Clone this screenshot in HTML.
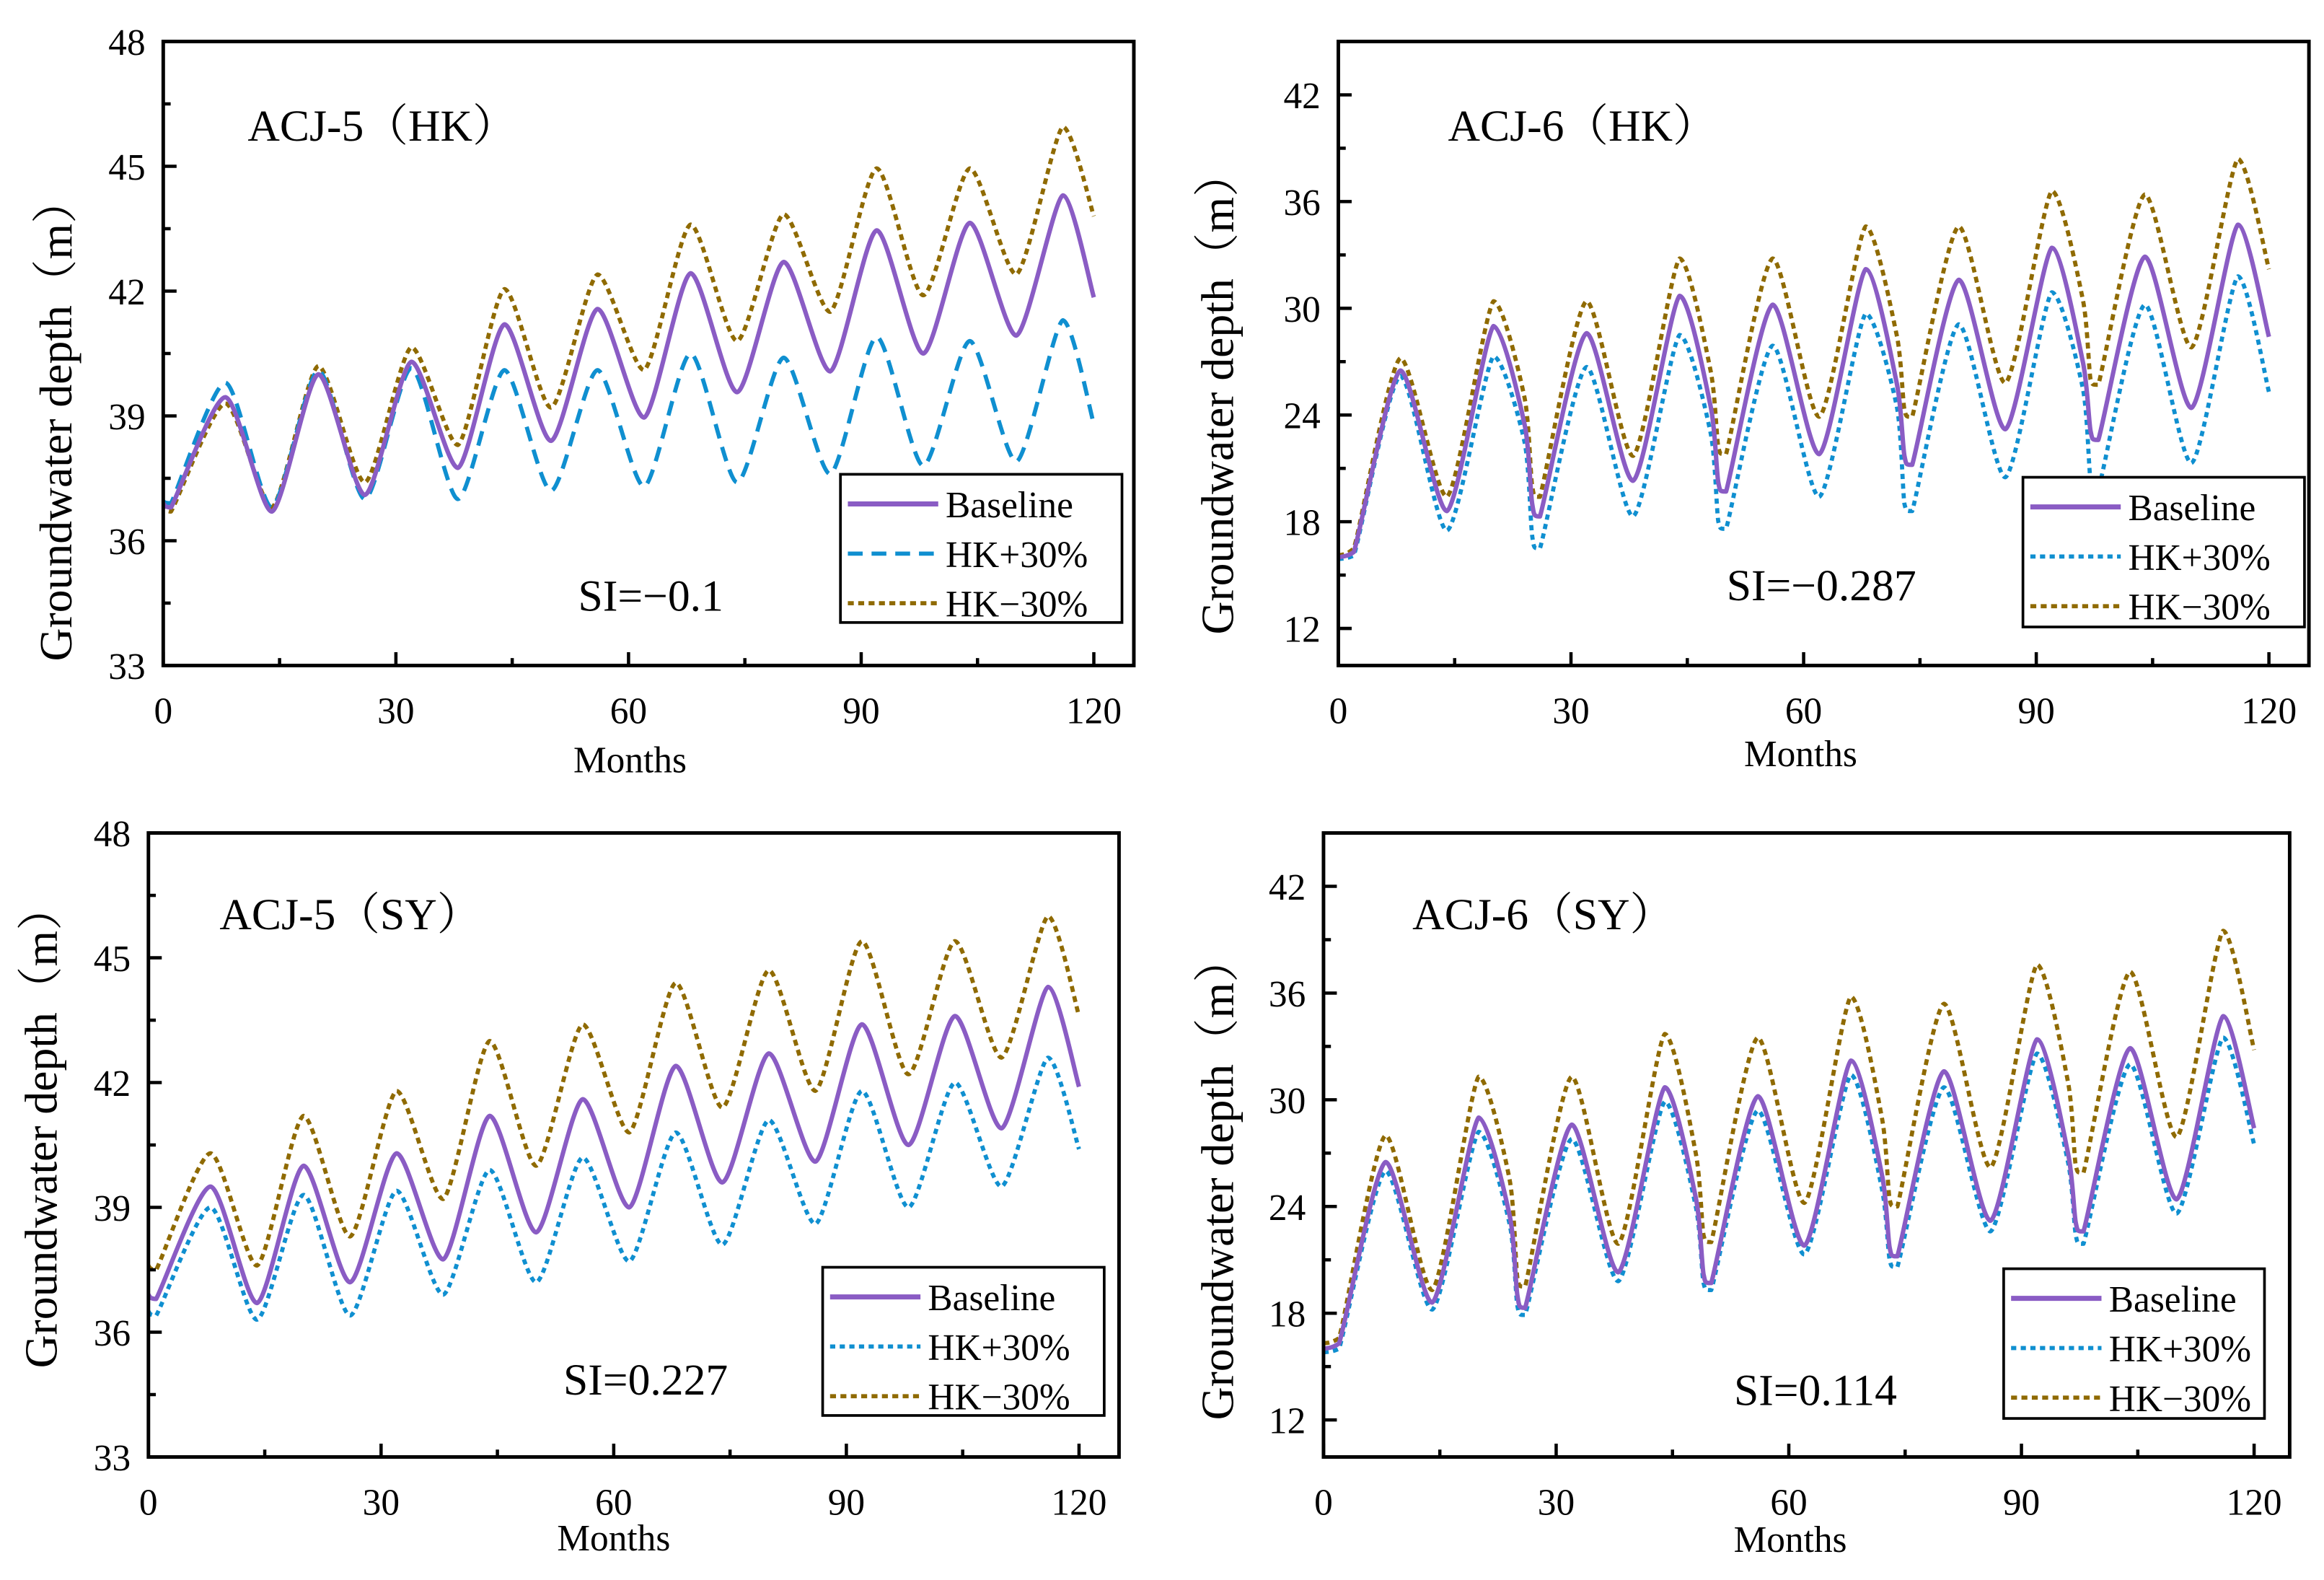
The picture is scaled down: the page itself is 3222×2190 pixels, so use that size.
<!DOCTYPE html>
<html><head><meta charset="utf-8"><style>
html,body{margin:0;padding:0;background:#fff}
svg{display:block}
text{font-family:"Liberation Serif","Noto Serif CJK SC",serif;fill:#000}
</style></head><body>
<svg id="chart" width="3222" height="2190" viewBox="0 0 1568 1066" xmlns="http://www.w3.org/2000/svg"></svg>
<script>
const months5 = [0,1,8,14,20,26,32,38,44,50,56,62,68,74,80,86,92,98,104,110,116,120];
const p1Base = [36.9,36.8,39.45,36.7,40.0,37.1,40.3,37.75,41.2,38.4,41.57,38.96,42.43,39.57,42.7,40.07,43.46,40.5,43.64,40.93,44.3,41.85];
const p1Plus = [36.95,36.9,39.8,36.8,40.1,37.0,40.15,37.0,40.1,37.2,40.1,37.3,40.5,37.4,40.4,37.6,40.9,37.8,40.8,37.9,41.3,38.8];
const p1Minus = [36.9,36.7,39.3,36.8,40.2,37.4,40.65,38.3,42.05,39.2,42.4,40.1,43.6,40.8,43.85,41.5,44.95,41.9,44.95,42.4,45.95,43.8];
const p3Base = [36.9,36.8,39.5,36.7,40.0,37.2,40.3,37.75,41.2,38.4,41.6,39.0,42.4,39.6,42.7,40.1,43.4,40.5,43.6,40.9,44.3,41.9];
const p3Plus = [36.5,36.4,39.0,36.3,39.3,36.4,39.4,36.9,39.9,37.2,40.2,37.7,40.8,38.1,41.1,38.6,41.8,39.0,42.0,39.5,42.6,40.4];
const p3Minus = [37.6,37.5,40.3,37.6,41.2,38.3,41.8,39.2,43.0,40.0,43.4,40.8,44.4,41.4,44.7,41.8,45.4,42.2,45.4,42.6,46.0,43.6];
const months6 = [0,2,8,14,20,24,25,26,32,38,44,48,49,50,56,62,68,72,73,74,80,86,92,96,97,98,104,110,116,120];
const p2Base = [16.0,16.3,26.5,18.6,29.0,23.5,19.0,18.3,28.6,20.3,30.7,24.5,20.2,19.7,30.2,21.8,32.2,25.8,21.7,21.2,31.6,23.2,33.4,27.0,23.1,22.6,32.9,24.4,34.7,28.4];
const p2Plus = [15.9,16.1,26.2,17.5,27.3,22.5,17.2,16.5,26.7,18.3,28.5,23.0,18.0,17.6,27.9,19.4,29.7,24.5,19.0,18.6,29.1,20.5,30.9,25.5,20.3,19.8,30.2,21.3,31.8,25.3];
const p2Minus = [16.1,16.5,27.2,19.4,30.4,25.0,20.0,19.4,30.4,21.7,32.8,26.5,22.2,21.8,32.8,23.9,34.6,28.5,24.3,23.9,34.6,25.8,36.6,30.5,26.0,25.7,36.4,27.8,38.4,32.2];
const p4Base = p2Base;
const p4Plus = [15.8,16.0,26.0,18.2,28.2,23.0,18.4,17.9,27.8,19.8,29.9,24.0,19.7,19.3,29.4,21.3,31.4,25.0,21.0,20.6,30.7,22.6,32.6,26.5,22.4,21.9,32.0,23.6,33.5,27.5];
const p4Minus = [16.3,16.6,28.0,19.3,31.3,25.5,20.0,19.5,31.3,21.9,33.7,27.0,22.4,22.0,33.5,24.2,35.8,29.0,24.4,24.0,35.4,26.2,37.6,31.0,26.3,25.9,37.2,27.9,39.5,32.8];
const xTicks = [0,30,60,90,120];
const yTicks5 = [33,36,39,42,45,48];
const yTicks6 = [12,18,24,30,36,42];
const titles = ["ACJ-5（HK）","ACJ-6（HK）","ACJ-5（SY）","ACJ-6（SY）"];
const siLabels = ["SI=−0.1","SI=−0.287","SI=0.227","SI=0.114"];

const NS="http://www.w3.org/2000/svg";
const svg=document.getElementById('chart');
function mk(tag,attrs,parent){const e=document.createElementNS(NS,tag);for(const k in attrs)e.setAttribute(k,attrs[k]);(parent||svg).appendChild(e);return e;}
const C={base:'#8a5cc4',plus:'#0f8fd0',minus:'#8f6a00'};
const clamp=(v,a,b)=>Math.max(Math.min(a,b),Math.min(Math.max(a,b),v));

function smoothPath(pts){
 let d='M'+pts[0][0].toFixed(2)+','+pts[0][1].toFixed(2);
 const t=0.12;
 for(let i=0;i<pts.length-1;i++){
  const p0=pts[Math.max(0,i-1)],p1=pts[i],p2=pts[i+1],p3=pts[Math.min(pts.length-1,i+2)];
  const c1=[p1[0]+(p2[0]-p0[0])*t,clamp(p1[1]+(p2[1]-p0[1])*t,p1[1],p2[1])];
  const c2=[p2[0]-(p3[0]-p1[0])*t,clamp(p2[1]-(p3[1]-p1[1])*t,p1[1],p2[1])];
  d+=` C${c1[0].toFixed(2)},${c1[1].toFixed(2)} ${c2[0].toFixed(2)},${c2[1].toFixed(2)} ${p2[0].toFixed(2)},${p2[1].toFixed(2)}`;
 }
 return d;
}

const panels=[
 {fx0:110,fx1:765,fy0:28,fy1:449,x0:110,x1:738,vmin:33,vmax:48,yt:yTicks5,months:months5,series:[p1Base,p1Plus,p1Minus],plusDash:'10,6',
  title:[167,95],leg:[567,320,190,100],si:[390,412],ylab:[48,283],mon:[425,521],name:'acj5-hk'},
 {fx0:903,fx1:1558,fy0:28,fy1:449,x0:903,x1:1531,vmin:42-(449-64)/12,vmax:42+(64-28)/12,yt:yTicks6,months:months6,series:[p2Base,p2Plus,p2Minus],plusDash:'3.5,3',
  title:[977,95],leg:[1365,322,190,101],si:[1165,405],ylab:[832,265],mon:[1215,517],name:'acj6-hk'},
 {fx0:100,fx1:755,fy0:562,fy1:983,x0:100,x1:728,vmin:33,vmax:48,yt:yTicks5,months:months5,series:[p3Base,p3Plus,p3Minus],plusDash:'3.5,3',
  title:[148,627],leg:[555,855,190,100],si:[380,941],ylab:[38,760],mon:[414,1046],name:'acj5-sy'},
 {fx0:893,fx1:1545,fy0:562,fy1:983,x0:893,x1:1521,vmin:42-(983-598)/12,vmax:42+(598-562)/12,yt:yTicks6,months:months6,series:[p4Base,p4Plus,p4Minus],plusDash:'3.5,3',
  title:[953,627],leg:[1352,856,176,101],si:[1170,948],ylab:[832,795],mon:[1208,1047],name:'acj6-sy'}
];
const legendNames=["Baseline","HK+30%","HK−30%"];

panels.forEach((p,pi)=>{
 const g=mk('g',{});
 
 
 const X=m=>p.x0+(m/120)*(p.x1-p.x0);
 const Y=v=>p.fy1-(v-p.vmin)/(p.vmax-p.vmin)*(p.fy1-p.fy0);
 const keys=['base','plus','minus'];
 [2,1,0].forEach(si=>{
  const arr=p.series[si];
  const pts=arr.map((v,i)=>[X(p.months[i]),Y(v)]);
  const attrs={d:smoothPath(pts),fill:'none',stroke:C[keys[si]],'stroke-width':si==0?3:2.8,'stroke-linejoin':'round'};
  if(si==1)attrs['stroke-dasharray']=p.plusDash;
  if(si==2)attrs['stroke-dasharray']='4,3';
  const pl=mk('path',attrs,g);
  
  
 });
 const fr=mk('rect',{x:p.fx0,y:p.fy0,width:p.fx1-p.fx0,height:p.fy1-p.fy0,fill:'none',stroke:'#000','stroke-width':2.4},g);
 
 
 for(let m=0;m<=120;m+=15){
  const major=m%30==0;
  mk('line',{x1:X(m),x2:X(m),y1:p.fy1,y2:p.fy1-(major?9:5),stroke:'#000','stroke-width':2.2},g);
 }
 xTicks.forEach(t=>{
  const tx=mk('text',{x:X(t),y:p.fy1+39,'font-size':25,'text-anchor':'middle'},g);
  tx.textContent=t;
  
  
 });
 const step=p.yt[1]-p.yt[0];
 for(let v=p.yt[0];v<=p.yt[p.yt.length-1]+0.01;v+=step/2){
  const yy=Y(v);if(yy<p.fy0-0.5||yy>p.fy1+0.5)continue;
  const major=Math.abs((v-p.yt[0])%step)<0.01;
  mk('line',{x1:p.fx0,x2:p.fx0+(major?9:5),y1:yy,y2:yy,stroke:'#000','stroke-width':2.2},g);
 }
 p.yt.forEach(t=>{
  const ty=mk('text',{x:p.fx0-12,y:Y(t)+9,'font-size':25,'text-anchor':'end'},g);
  ty.textContent=t;
  
  
 });
 const yl=mk('text',{x:p.ylab[0],y:p.ylab[1],'font-size':31,'text-anchor':'middle',transform:`rotate(-90 ${p.ylab[0]} ${p.ylab[1]})`},g);
 yl.textContent='Groundwater depth（m）';
 
 
 const xl=mk('text',{x:p.mon[0],y:p.mon[1],'font-size':25,'text-anchor':'middle'},g);
 xl.textContent='Months';
 
 
 const tt=mk('text',{x:p.title[0],y:p.title[1],'font-size':30},g);
 tt.textContent=titles[pi];
 
 
 const st=mk('text',{x:p.si[0],y:p.si[1],'font-size':30},g);
 st.textContent=siLabels[pi];
 
 
 const [lx,ly,lw,lh]=p.leg;
 const lg=mk('g',{},g);
 
 
 mk('rect',{x:lx,y:ly,width:lw,height:lh,fill:'#fff',stroke:'#000','stroke-width':1.8},lg);
 keys.forEach((k,i)=>{
  const yy=ly+20+i*33.5;
  const a={x1:lx+5,x2:lx+66,y1:yy,y2:yy,stroke:C[k],'stroke-width':i==0?3.4:2.8};
  if(i==1)a['stroke-dasharray']=p.plusDash;
  if(i==2)a['stroke-dasharray']='4,3';
  mk('line',a,lg);
  const lt=mk('text',{x:lx+71,y:yy+9,'font-size':25},lg);
  lt.textContent=legendNames[i];
  
  
 });
});
</script>
</body></html>
